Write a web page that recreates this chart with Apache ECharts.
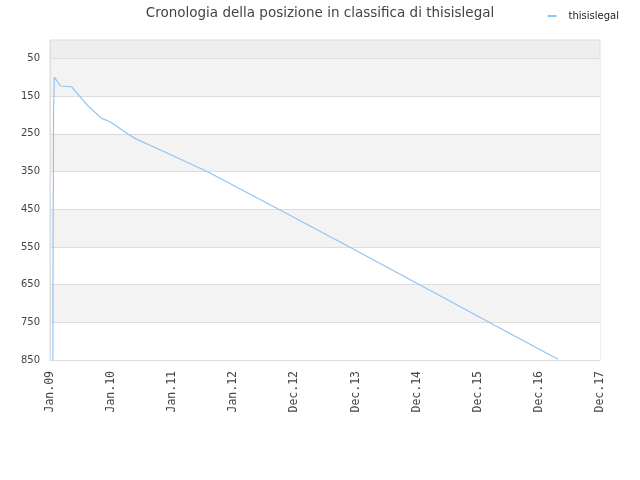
<!DOCTYPE html>
<html lang="it">
<head>
  <meta charset="UTF-8">
  <title>Cronologia posizione</title>
  <script src="https://cdn.jsdelivr.net/npm/echarts@6.0.0/dist/echarts.min.js"></script>
  <style>
    html, body { margin: 0; padding: 0; background: #fff; }
    #main { width: 640px; height: 480px; }
  </style>
</head>
<body>
<div id="main"></div>
<script>
  // dati
  const seriesName = 'thisislegal';
  const dates = [
    '2009-01-18', '2009-01-20', '2009-01-21', '2009-01-22', '2009-01-27',
    '2009-03-06', '2009-05-10', '2009-08-12', '2009-11-05', '2009-12-26',
    '2010-04-14', '2010-05-23', '2010-10-20', '2011-08-03', '2012-10-06',
    '2013-11-28', '2015-01-20', '2016-03-13', '2017-04-23'
  ];
  const ranks = [
    850, 450, 400, 190, 100,
    123, 125, 174, 209, 218,
    251, 262, 292, 351, 452,
    551, 651, 751, 848
  ];
  const rankTicks = [50, 150, 250, 350, 450, 550, 650, 750, 850];
  const months = ['Jan', 'Feb', 'Mar', 'Apr', 'May', 'Jun', 'Jul', 'Aug', 'Sep', 'Oct', 'Nov', 'Dec'];

  const DAY = 86400000;
  const start = Date.UTC(2009, 0, 1);
  const toDay = function (s) { return Math.round((Date.parse(s + 'T00:00:00Z') - start) / DAY); };
  const data = dates.map(function (d, i) { return [toDay(d), ranks[i]]; });

  const chart = echarts.init(document.getElementById('main'));
  chart.setOption({
    animation: false,
    textStyle: { fontFamily: 'DejaVu Sans' },
    title: {
      text: 'Cronologia della posizione in classifica di thisislegal',
      left: 'center',
      top: 1,
      textStyle: { fontSize: 13.5, fontWeight: 'normal', color: '#444' }
    },
    legend: {
      right: 16,
      top: 6,
      icon: 'rect',
      itemWidth: 9,
      itemHeight: 2,
      itemGap: 5,
      textStyle: { fontSize: 10, color: '#222', padding: [0, 0, 0, 7] },
      data: [seriesName]
    },
    grid: {
      left: 50, right: 40, top: 40, bottom: 120,
      show: true,
      backgroundColor: '#eeeeee',
      borderColor: '#dddddd',
      borderWidth: 1,
      containLabel: false
    },
    xAxis: {
      type: 'value',
      min: 0,
      max: 3285,
      interval: 365,
      axisLine: { lineStyle: { color: '#dddddd' } },
      axisTick: { show: false },
      splitLine: { show: false },
      axisLabel: {
        rotate: 90,
        fontFamily: 'DejaVu Sans Mono',
        fontSize: 11.5,
        color: '#444',
        margin: 11,
        formatter: function (v) {
          const d = new Date(start + v * DAY);
          return months[d.getUTCMonth()] + '.' + String(d.getUTCFullYear()).slice(2);
        }
      }
    },
    yAxis: {
      type: 'value',
      inverse: true,
      min: 1,
      max: 850,
      axisLine: { show: true, lineStyle: { color: '#dddddd' } },
      axisTick: { show: false, customValues: rankTicks },
      axisLabel: { customValues: rankTicks, fontSize: 10, color: '#444', margin: 10 },
      splitLine: { show: true, lineStyle: { color: '#dddddd' } },
      splitArea: { show: true, areaStyle: { color: ['#f3f3f3', '#ffffff'] } }
    },
    series: [{
      name: seriesName,
      type: 'line',
      data: data,
      showSymbol: false,
      color: '#90c4f6',
      lineStyle: { width: 1.2, color: '#90c4f6' }
    }]
  });
</script>
</body>
</html>
